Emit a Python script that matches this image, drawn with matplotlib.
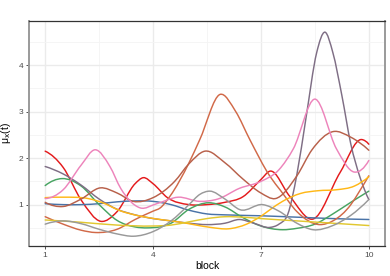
import numpy as np
import matplotlib
matplotlib.use('Agg')
import matplotlib.pyplot as plt
from matplotlib.path import Path
from matplotlib.patches import PathPatch

# values at knot positions along "block"
red_x = [1, 1.5, 2, 2.55, 3, 3.5, 3.73, 4, 4.4, 5, 5.5, 6, 6.5, 7, 7.25, 7.8, 8.45, 9.2, 9.8, 10]
red_y = [2.15, 1.8, 1.1, 0.64, 0.85, 1.45, 1.58, 1.45, 1.15, 1.0, 1.0, 1.05, 1.17, 1.54, 1.72, 1.18, 0.69, 1.69, 2.4, 2.3]

blue_x = [1, 1.5, 2, 2.5, 3, 3.5, 4, 4.5, 5, 5.5, 6, 7, 8, 9, 10]
blue_y = [1.02, 1.0, 1.0, 1.02, 1.06, 1.08, 1.07, 1.0, 0.88, 0.8, 0.78, 0.76, 0.73, 0.7, 0.68]

green_x = [1, 1.47, 2, 2.5, 3, 3.5, 3.85, 4.5, 5, 5.55, 6, 6.5, 7, 7.6, 8, 8.5, 9, 9.5, 10]
green_y = [1.41, 1.56, 1.4, 1.0, 0.66, 0.52, 0.5, 0.6, 0.9, 1.04, 0.95, 0.72, 0.54, 0.46, 0.49, 0.58, 0.8, 1.05, 1.29]

purple_x = [1, 1.5, 2, 2.5, 3, 3.5, 4, 4.5, 5, 5.5, 6, 6.4, 6.8, 7.25, 7.5, 7.75, 8, 8.25, 8.55,
            8.78, 9, 9.25, 9.5, 9.75, 10]
purple_y = [1.82, 1.66, 1.42, 1.12, 0.9, 0.78, 0.7, 0.65, 0.6, 0.57, 0.6, 0.68, 0.6, 0.51, 0.58, 0.8,
            1.65, 2.85, 4.27, 4.71, 4.27, 3.35, 2.3, 1.6, 1.11]

rust_x = [1, 1.5, 2, 2.4, 3, 3.5, 4, 4.2, 4.47, 5, 5.3, 5.86, 6.3, 6.69, 7.25, 7.55, 8, 8.64, 9, 9.5, 9.75, 10]
rust_y = [0.74, 0.58, 0.45, 0.4, 0.47, 0.68, 0.86, 0.93, 1.18, 1.9, 2.4, 3.37, 3.0, 2.4, 1.61, 1.3, 0.85, 0.57,
          0.65, 1.0, 1.3, 1.62]

orange_x = [1, 1.5, 2.2, 2.6, 3.08, 3.6, 4.2, 4.7, 5.2, 5.6, 6.1, 6.6, 7, 7.25, 7.6, 8.1, 8.6, 9.1, 9.6, 10]
orange_y = [1.15, 1.16, 1.13, 1.04, 0.87, 0.76, 0.68, 0.63, 0.56, 0.51, 0.48, 0.58, 0.75, 0.89, 1.07, 1.24,
            1.3, 1.32, 1.4, 1.6]

gold_x = [1, 2, 3, 4, 4.5, 5, 5.5, 6, 6.5, 7, 8, 9, 10]
gold_y = [0.67, 0.62, 0.56, 0.54, 0.56, 0.63, 0.7, 0.74, 0.73, 0.7, 0.65, 0.6, 0.55]

brown_x = [1, 1.5, 2, 2.53, 3, 3.45, 4, 4.6, 5, 5.44, 6, 6.5, 7, 7.4, 8, 8.42, 9, 9.5, 10]
brown_y = [1.05, 0.96, 1.12, 1.36, 1.25, 1.07, 1.15, 1.5, 1.88, 2.15, 1.9, 1.55, 1.25, 1.13, 1.62, 2.18,
           2.57, 2.45, 2.17]

pink_x = [1, 1.5, 2, 2.39, 2.8, 3.1, 3.64, 4.1, 4.7, 5.3, 5.8, 6.4, 7, 7.5, 7.9, 8.5, 9.1, 9.6, 10]
pink_y = [1.13, 1.32, 1.85, 2.18, 1.82, 1.35, 0.93, 1.02, 1.16, 1.07, 1.12, 1.35, 1.5, 1.75, 2.2, 3.27,
          2.2, 1.7, 1.95]

gray_x = [1, 1.5, 2, 2.5, 3, 3.45, 4, 4.5, 5, 5.3, 5.58, 6, 6.42, 7.05, 7.5, 8, 8.45, 9, 9.5, 10]
gray_y = [0.58, 0.65, 0.59, 0.47, 0.37, 0.32, 0.42, 0.65, 1.0, 1.22, 1.29, 1.12, 0.89, 1.0, 0.86, 0.6,
          0.46, 0.55, 0.77, 1.11]

series = [
    (red_x, red_y, '#E41A1C'),
    (blue_x, blue_y, '#4A73A7'),
    (green_x, green_y, '#48A462'),
    (purple_x, purple_y, '#7F6E85'),
    (rust_x, rust_y, '#D16948'),
    (orange_x, orange_y, '#FFB817'),
    (gold_x, gold_y, '#E1C72F'),
    (brown_x, brown_y, '#B8604A'),
    (pink_x, pink_y, '#ED84BB'),
    (gray_x, gray_y, '#999999'),
]


def slopes(x, y):
    # three-point (parabola) derivative at each knot
    x = np.asarray(x, float)
    y = np.asarray(y, float)
    h = np.diff(x)
    d = np.diff(y) / h
    m = np.zeros_like(y)
    m[1:-1] = (d[:-1] * h[1:] + d[1:] * h[:-1]) / (h[:-1] + h[1:])
    m[0] = ((2 * h[0] + h[1]) * d[0] - h[0] * d[1]) / (h[0] + h[1])
    m[-1] = ((2 * h[-1] + h[-2]) * d[-1] - h[-1] * d[-2]) / (h[-1] + h[-2])
    return m


def smooth_path(x, y):
    # cubic hermite segments turned into bezier curves, drawn by matplotlib
    m = slopes(x, y)
    verts = [(x[0], y[0])]
    codes = [Path.MOVETO]
    for k in range(len(x) - 1):
        h = x[k + 1] - x[k]
        verts += [(x[k] + h / 3, y[k] + m[k] * h / 3),
                  (x[k + 1] - h / 3, y[k + 1] - m[k + 1] * h / 3),
                  (x[k + 1], y[k + 1])]
        codes += [Path.CURVE4] * 3
    return Path(verts, codes)


plt.rcParams['font.family'] = ['Liberation Sans', 'DejaVu Sans']

fig = plt.figure(figsize=(3.9, 2.76), dpi=100)
ax = fig.add_axes([29 / 390, 30 / 276, 356 / 390, 225 / 276])

for x, y, c in series:
    ax.add_patch(PathPatch(smooth_path(x, y), fill=False, edgecolor=c, lw=1.05,
                           capstyle='round', joinstyle='round', zorder=3))

ax.set_xlim(0.55, 10.45)
ax.set_ylim(0.11, 4.95)
ax.set_xticks([1, 4, 7, 10])
ax.set_xticks([2.5, 5.5, 8.5], minor=True)
ax.set_yticks([1, 2, 3, 4])
ax.set_yticks([0.5, 1.5, 2.5, 3.5, 4.5], minor=True)
ax.grid(which='major', color='#ebebeb', lw=1.0, zorder=0)
ax.grid(which='minor', color='#f4f4f4', lw=0.6, zorder=0)
ax.set_axisbelow(True)

ax.tick_params(which='major', length=2.5, width=0.6, color='#333333',
               labelsize=6, labelcolor='#4d4d4d', pad=1.5)
ax.tick_params(which='minor', length=0)

for side in ['top', 'bottom']:
    ax.spines[side].set_color('#333333')
    ax.spines[side].set_linewidth(0.9)
for side in ['left', 'right']:
    ax.spines[side].set_color('#9a9a9a')
    ax.spines[side].set_linewidth(1.4)

ax.set_xlabel('block', fontsize=7.5, labelpad=2)
ax.set_ylabel('μ$_{\\mathrm{x}}$(t)', fontsize=7.5, labelpad=4)

fig.savefig('out.png', dpi=100)
